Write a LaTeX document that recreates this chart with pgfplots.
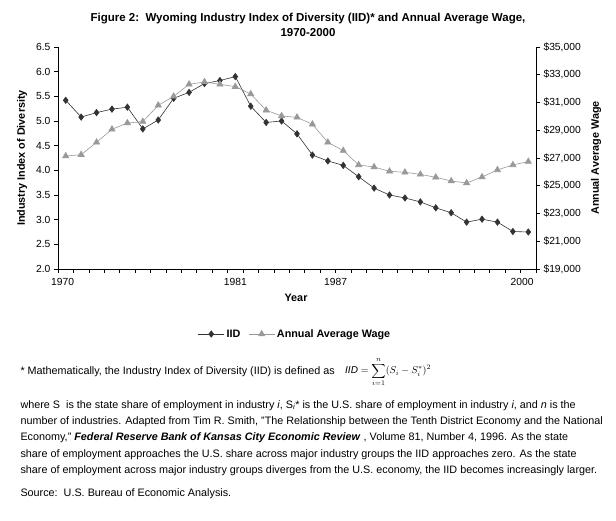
\documentclass[border=0pt]{standalone}
\usepackage{pgfplots}
\pgfplotsset{compat=1.18}
\usepackage{pgfplotstable}
\usepackage{fontspec}
\setmainfont{Liberation Sans}
\definecolor{iidc}{HTML}{333333}
\definecolor{wagec}{HTML}{999999}
\newcommand\tf{\fontsize{10.3}{12}\selectfont}
\newcommand\lf{\fontsize{10.8}{12}\selectfont}
\newcommand\nf{\fontsize{10.8}{12}\selectfont}

% year index (0 = 1970), IID, annual average wage
\pgfplotstableread{
i  iid   wage
0  5.42  27140
1  5.08  27240
2  5.17  28130
3  5.24  29070
4  5.28  29520
5  4.84  29620
6  5.02  30800
7  5.46  31440
8  5.58  32310
9  5.76  32480
10 5.82  32310
11 5.90  32140
12 5.30  31610
13 4.97  30440
14 5.00  30030
15 4.74  29930
16 4.31  29430
17 4.19  28130
18 4.10  27530
19 3.87  26500
20 3.64  26350
21 3.50  26040
22 3.44  25970
23 3.36  25820
24 3.24  25610
25 3.14  25340
26 2.95  25200
27 3.01  25630
28 2.95  26140
29 2.76  26500
30 2.75  26740
}\datatable

\pgfplotsset{
  common/.style={
    at={(58pt,-269pt)}, anchor=south west,
    scale only axis, width=478pt, height=222pt,
    xmin=-0.5, xmax=30.5,
    axis line style={line width=0.8pt},
    tick style={black, line width=0.6pt},
    tick align=outside,
    major tick length=4pt, minor tick length=4pt,
    ticklabel style={font=\tf},
    label style={font=\bfseries\lf},
    legend image code/.code={\draw[mark repeat=2,mark phase=2,##1] plot coordinates {(0pt,0pt) (13pt,0pt) (26pt,0pt)};},
  },
  iid/.style={iidc, line width=0.6pt, mark=diamond*, mark size=3.2pt, mark options={solid, fill=iidc, draw=iidc}},
  wage/.style={wagec, line width=0.6pt, mark=triangle*, mark size=3.6pt, mark options={solid, fill=wagec, draw=wagec}},
}

\begin{document}
\begin{tikzpicture}[x=1pt,y=1pt]
\path[use as bounding box, fill=white] (0,0) rectangle (616,-521);

\node[align=center, font=\bfseries\fontsize{11.5}{15}\selectfont] at (308,-25)
  {Figure 2:\ \ Wyoming Industry Index of Diversity (IID)* and Annual Average Wage,\\1970-2000};

\begin{axis}[common,
  ymin=2, ymax=6.5,
  axis y line*=left, axis x line*=bottom,
  ytick={2,2.5,...,6.5},
  yticklabels={2.0,2.5,3.0,3.5,4.0,4.5,5.0,5.5,6.0,6.5},
  xtick={-0.2,11,17.5,29.6},
  xticklabels={1970,1981,1987,2000},
  xticklabel style={yshift=-2pt},
  major x tick style={draw=none},
  minor xtick={-0.5,0.5,...,30.5},
  xlabel={Year},
  xlabel style={at={(axis description cs:0.498,-0.13)}, anchor=center},
  ylabel={Industry Index of Diversity},
  ylabel style={at={(axis description cs:-0.075,0.5)}, anchor=center},
]
\addplot[iid] table[x=i, y=iid] {\datatable};
\end{axis}

\begin{axis}[common,
  ymin=19000, ymax=35000,
  axis y line*=right, axis x line=none,
  scaled y ticks=false,
  ytick={19000,21000,...,35000},
  yticklabels={{\$19,000},{\$21,000},{\$23,000},{\$25,000},{\$27,000},{\$29,000},{\$31,000},{\$33,000},{\$35,000}},
  ylabel={Annual Average Wage},
  ylabel style={at={(axis description cs:1.1255,0.5)}, anchor=center},
  legend columns=2,
  legend style={at={(axis description cs:0.496,-0.293)}, anchor=center, draw=none,
    font=\bfseries\lf, /tikz/every even column/.append style={column sep=6pt}},
]
\addlegendimage{iid}
\addlegendentry{IID}
\addplot[wage] table[x=i, y=wage] {\datatable};
\addlegendentry{Annual Average Wage}
\end{axis}

\node[anchor=base west, font=\nf] at (17,-374)
  {* Mathematically, the Industry Index of Diversity (IID) is defined as};
\node[anchor=west, inner sep=0pt] at (345,-372)
  {$\displaystyle \mathit{IID}=\sum_{i=1}^{n}(S_i-S_i^{*})^2$};
\node[anchor=base west, font=\nf] at (17,-408)
  {where S\ \ is the state share of employment in industry \textit{i}, S\textsubscript{\textit{i}}* is the U.S. share of employment in industry \textit{i}, and \textit{n} is the};
\node[anchor=base west, font=\nf] at (17,-424)
  {number of industries. Adapted from Tim R. Smith, "The Relationship between the Tenth District Economy and the National};
\node[anchor=base west, font=\nf] at (17,-440)
  {Economy," \textbf{\textit{Federal Reserve Bank of Kansas City Economic Review}} , Volume 81, Number 4, 1996. As the state};
\node[anchor=base west, font=\nf] at (17,-457)
  {share of employment approaches the U.S. share across major industry groups the IID approaches zero. As the state};
\node[anchor=base west, font=\nf] at (17,-473)
  {share of employment across major industry groups diverges from the U.S. economy, the IID becomes increasingly larger.};
\node[anchor=base west, font=\nf] at (17,-496)
  {Source:\ \ U.S. Bureau of Economic Analysis.};
\end{tikzpicture}
\end{document}
